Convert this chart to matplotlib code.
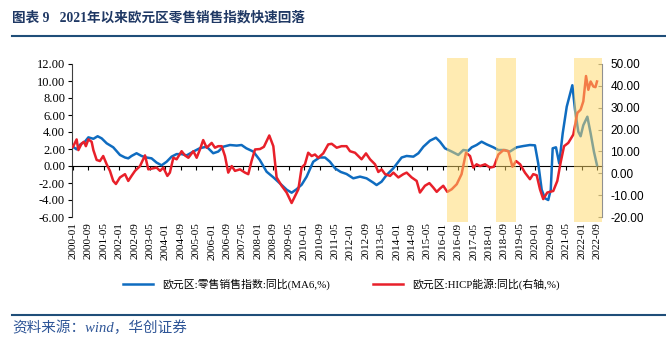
import matplotlib
matplotlib.use('Agg')
import matplotlib.pyplot as plt
from matplotlib.lines import Line2D
from matplotlib.ticker import FormatStrFormatter
import numpy as np

plt.rcParams['font.family'] = ['Liberation Serif', 'Noto Sans CJK SC']

# month offsets from 2000-01
blue_m = [0, 1.9, 3.6, 6.2, 8, 10.6, 12.8, 14.9, 17.5, 20.9, 24.4, 27, 28.7, 30.4, 33, 35.6,
          38.2, 40.8, 43.4, 46, 48.6, 51.2, 53.8, 56.4, 59, 62.5, 65.9, 69.4, 72.8, 75.4, 78,
          81.5, 85, 87.5, 90, 93.6, 97, 100.5, 104, 107.4, 111, 113.5, 116, 118.7, 121.3,
          124.7, 128, 130.8, 133.4, 136, 139, 142, 145.5, 149, 152.4, 155.9, 157.6, 160.2,
          162.8, 166.3, 170.6, 173.2, 176.7, 179.3, 181.9, 185.3, 188.4, 190.5, 193.1, 196.6,
          200, 202.6, 205.2, 207, 209.5, 212.1, 214.7, 218.2, 220.8, 224.2, 226.8, 230.3,
          233.8, 237.2, 239.8, 241.5, 243.3, 245, 246.7, 248, 249, 250.7, 252.4, 254.2, 256.3,
          259.2, 260.6, 262.3, 263.5, 264.9, 267, 268.7, 270.4, 272]
blue_v = [2.27, 1.96, 2.5, 2.86, 3.37, 3.2, 3.5, 3.25, 2.67, 2.2, 1.3, 1.0, 0.9, 1.18, 1.5, 1.18,
          1.0, 0.9, 0.4, 0.08, 0.5, 1.1, 1.4, 1.4, 1.25, 1.7, 2.1, 2.27, 1.5, 1.7, 2.27,
          2.47, 2.4, 2.47, 2.08, 1.7, 0.7, -0.67, -1.33, -2.04, -2.8, -3.14, -2.75, -2.2, -1.25,
          0.5, 1.0, 1.0, 0.5, -0.27, -0.7, -0.94, -1.45, -1.25, -1.45, -1.96, -2.24, -1.84,
          -1.06, -0.27, 1.0, 1.18, 1.1, 1.5, 2.27, 2.98, 3.33, 2.86, 2.08, 1.7,
          1.3, 1.88, 1.8, 2.2, 2.47, 2.86, 2.55, 2.2, 1.88, 1.88, 1.7, 2.2,
          2.35, 2.47, 2.43, 0.3, -2.8, -3.8, -4.0, -2.8, 2.08, 2.2, 0.3, 3.84, 6.98,
          9.5, 6.6, 4.04, 3.5, 4.8, 5.8, 3.84, 1.7, 0.1]

red_m = [0, 1.9, 2.8, 4.5, 5.7, 6.7, 8, 9.7, 10.6, 12.3, 14, 15.7, 17.5, 19.2, 20.9, 22.3,
         24.4, 27, 28.7, 30.4, 32.2, 34.8, 37.4, 39.1, 40.8, 43.4, 45.2, 46.9, 49, 50.3, 52.1,
         53.8, 56.4, 58.1, 59.9, 62.5, 64.2, 65.9, 67.6, 69.4, 72, 73.7, 75.4, 77.2, 78.9,
         80.6, 82.4, 84.1, 86.7, 89.3, 91, 92.7, 94.5, 97.1, 99.1, 101.9, 104, 105.7, 108.3,
         110.9, 113.5, 115.3, 117, 118.7, 120.4, 122.1, 123.9, 125.6, 127.3, 129.9, 132.5,
         134.3, 136.9, 139.4, 142, 143.8, 146.4, 149.8, 152.1, 154.2, 156.8, 158.5, 160.2,
         162, 164.6, 166.3, 168.9, 171.5, 173.2, 175.8, 178.4, 180.1, 182.7, 185, 187,
         188.8, 190.5, 192.2, 194.3, 196.6, 199.2, 201.7, 204, 206.1, 207.8, 209.5, 211.3,
         213.9, 216.5, 218.5, 220.8, 223.4, 226, 228.1, 230, 232.1, 234.6, 237.2, 238.9,
         240.7, 242.4, 244.1, 246.2, 249.3, 251.4, 253.1, 254.9, 257.1, 259.7, 261.8, 263.5,
         264.9, 266.3, 267.5, 268.7, 270.1, 271.2, 272]
red_v = [12.1, 15.5, 10.6, 13.6, 14.4, 12.4, 15.5, 14.4, 10.6, 6.1, 5.6, 7.9, 4.1, 1.1, -3.5, -4.9,
         -1.9, -0.4, -3.5, -1.2, 1.1, 3.3, 8.2, 1.8, 2.1, 2.6, 1.1, 2.6, -1.2, 0.3, 7.1,
         6.4, 10.1, 8.2, 7.1, 10.1, 7.1, 10.9, 15.2, 11.7, 13.9, 11.7, 12.4, 12.4, 7.9,
         0.3, 3.3, 1.1, 1.8, 0.3, -0.4, 5.6, 10.9, 11.1, 12.1, 17.3, 12.4, -1.9, -5.7,
         -8.8, -13.6, -10.3, -7.3, 2.6, 4.1, 9.4, 7.9, 8.6, 7.1, 9.1, 13.2,
         13.5, 11.7, 12.4, 12.4, 10.1, 9.4, 6.4, 9.1, 6.4, 4.1, 0.6, 1.8,
         -0.4, -1.2, 0.3, -1.9, -0.4, 0.3, -1.9, -3.5, -8.8, -5.7, -4.5, -6.5,
         -8.5, -7.0, -5.7, -8.5, -7.3, -5.0, -0.4, 9.4, 7.9, 2.6, 4.1, 3.3,
         4.1, 2.6, 3.0, 8.6, 10.6, 10.1, 3.0, 5.6, 4.1, 0.3, -2.7, -0.4,
         -0.9, -7.3, -11.8, -8.8, -8.1, -3.5, 4.8, 12.4, 13.9, 17.7, 27.6, 29.1,
         32.9, 44.5, 38.2, 42.0, 39.7, 39.4, 42.0]

# shaded periods (month offsets)
span_start = [194, 219.5, 260]
span_end = [205, 230, 274.6]

tick_m = list(range(0, 273, 8))
tick_labels = ['2000-01', '2000-09', '2001-05', '2002-01', '2002-09', '2003-05', '2004-01',
               '2004-09', '2005-05', '2006-01', '2006-09', '2007-05', '2008-01', '2008-09',
               '2009-05', '2010-01', '2010-09', '2011-05', '2012-01', '2012-09', '2013-05',
               '2014-01', '2014-09', '2015-05', '2016-01', '2016-09', '2017-05', '2018-01',
               '2018-09', '2019-05', '2020-01', '2020-09', '2021-05', '2022-01', '2022-09']

blue_lbl = '欧元区:零售销售指数:同比(MA6,%)'
red_lbl = '欧元区:HICP能源:同比(右轴,%)'

fig = plt.figure(figsize=(6.66, 3.4), dpi=100)
ax = fig.add_axes([72/666, 1-217/340, (602-72)/666, 153/340])
ax2 = ax.twinx()

l1, = ax.plot(blue_m, blue_v, color='#0F6CC0', lw=1.8, zorder=3)
l2, = ax2.plot(red_m, red_v, color='#E8202A', lw=1.8, zorder=2)

for s, e in zip(span_start, span_end):
    ax2.axvspan(s, e, ymin=-0.03, ymax=1.04, color='#FFD966', alpha=0.5,
                lw=0, zorder=4, clip_on=False)

ax.set_xlim(-0.5, 274.6)
ax.set_ylim(-6, 12)
ax2.set_ylim(-20, 50)

# left axis
ax.set_yticks(np.arange(-6, 13, 2))
ax.yaxis.set_major_formatter(FormatStrFormatter('%.2f'))
ax.tick_params(axis='y', direction='out', length=3, labelsize=9, pad=2)
ax.spines['top'].set_visible(False)
ax.spines['right'].set_visible(False)
ax.spines['left'].set_color('#404040')
ax.spines['bottom'].set_position(('data', 0))
ax.spines['bottom'].set_color('black')
ax.set_xticks(tick_m)
ax.tick_params(axis='x', direction='out', length=3, labelbottom=False)

sec = ax.secondary_xaxis('bottom')
sec.set_xticks(tick_m, labels=tick_labels, rotation=90, fontsize=8)
sec.tick_params(length=0, pad=4)
sec.spines['bottom'].set_visible(False)

# right axis
ax2.set_yticks(np.arange(-20, 51, 10))
ax2.yaxis.set_major_formatter(FormatStrFormatter('%.2f'))
ax2.tick_params(axis='y', direction='in', length=3, labelsize=8.5, pad=6, color='#808080')
for lab in ax2.get_yticklabels():
    lab.set_family('Liberation Sans')
for sp in ['top', 'left', 'bottom']:
    ax2.spines[sp].set_visible(False)
ax2.spines['right'].set_color('#909090')

fig.legend([l1, l2], [blue_lbl, red_lbl], loc='center', bbox_to_anchor=(0.512, 1-284/340),
           ncol=2, frameon=False, fontsize=7.8, handlelength=2.8, columnspacing=4.0)

fig.text(12/666, 1-18/340, '图表 9   2021年以来欧元区零售销售指数快速回落', fontsize=9.8,
         fontweight='bold', color='#1F3864', va='center')
fig.add_artist(Line2D([12/666, 1], [1-36/340, 1-36/340], color='#1F4E79', lw=1.5))
fig.add_artist(Line2D([12/666, 1], [1-315/340, 1-315/340], color='#1F4E79', lw=1.5))
fig.text(12/666, 1-328/340, '资料来源：wind，华创证券', fontsize=10.5, style='italic',
         color='#2E5597', va='center')

fig.savefig('out.png', dpi=100)
